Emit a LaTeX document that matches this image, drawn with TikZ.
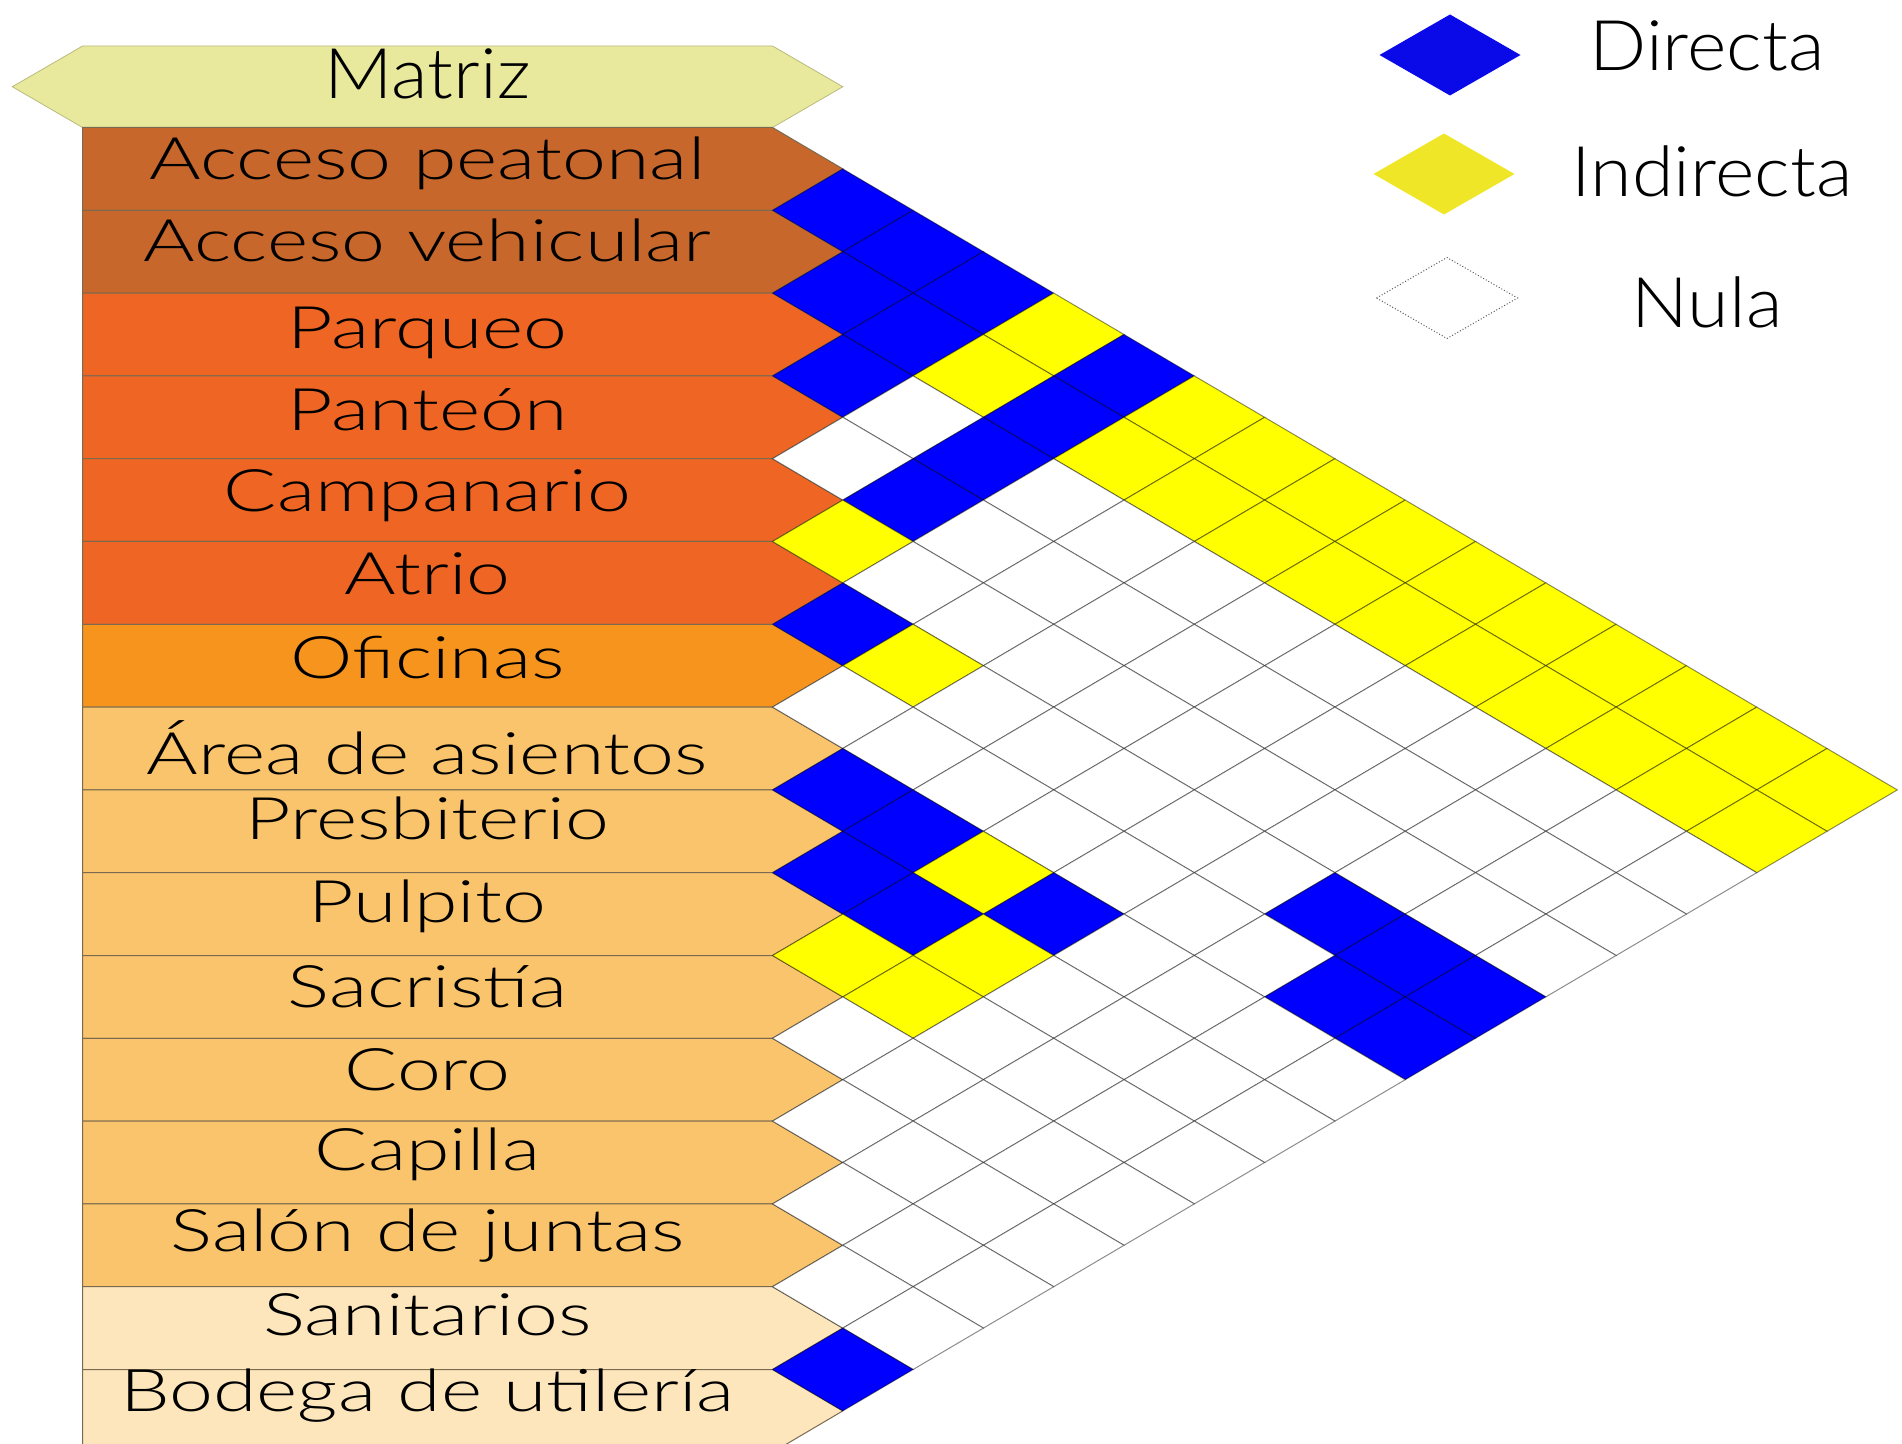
\documentclass[tikz,border=0pt]{standalone}
\usepackage{fontspec}
\setmainfont{Lato}[FakeStretch=1.25]
\newfontfamily\rowfont{Lato Light}[FakeStretch=1.345]
\newfontfamily\bigfont{Lato Light}[FakeStretch=1.08]
\definecolor{cB}{HTML}{0000FF}
\definecolor{cY}{HTML}{FFFF00}
\definecolor{cW}{HTML}{FFFFFF}
\definecolor{matrizc}{HTML}{E8E99D}
\definecolor{brownr}{HTML}{C8672B}
\definecolor{redor}{HTML}{EF6524}
\definecolor{orang}{HTML}{F7941E}
\definecolor{lightor}{HTML}{F9C46C}
\definecolor{paleor}{HTML}{FDE6BB}
\definecolor{legB}{HTML}{0A0AE8}
\definecolor{legY}{HTML}{F0E628}
\definecolor{rowline}{HTML}{7A6A50}
\tikzset{
  rowtext/.style={inner sep=0pt, anchor=base, font=\rowfont\fontsize{29.3}{30}\selectfont},
  bigtext/.style={inner sep=0pt, anchor=base, font=\bigfont\fontsize{34.9}{36}\selectfont},
  cellline/.style={draw=black, draw opacity=0.45, line width=0.5pt},
  rowshape/.style={draw=rowline, line width=0.5pt},
}
\begin{document}
\begin{tikzpicture}[x=0.5pt,y=-0.5pt]
\useasboundingbox (0,0) rectangle (1902,1444);
\clip (0,0) rectangle (1902,1444);
\def\L{82.6}
\def\S{772.5}
\def\W{70.3}
\def\H{41.4}
\def\T{127.5}
% header
\filldraw[fill=matrizc, draw=matrizc!80!black, line width=0.4pt]
  (\L,46) -- (\S,46) -- (\S+\W,86.75) -- (\S,127.5) -- (\L,127.5) -- (\L-\W,86.75) -- cycle;
\node[bigtext] (matriz) at (427.5,98.5) {Matriz};
% rows
\foreach \i/\col/\txt/\dy in {
  0/brownr/Acceso peatonal/52.5,
  1/brownr/Acceso vehicular/51.5,
  2/redor/Parqueo/55,
  3/redor/Panteón/54.5,
  4/redor/Campanario/53,
  5/redor/Atrio/53,
  6/orang/Oficinas/54,
  7/lightor/Área de asientos/67,
  8/lightor/Presbiterio/50,
  9/lightor/Pulpito/50,
  10/lightor/Sacristía/51.5,
  11/lightor/Coro/52,
  12/lightor/Capilla/49.5,
  13/lightor/Salón de juntas/48,
  14/paleor/Sanitarios/48.5,
  15/paleor/Bodega de utilería/42}{
  \pgfmathsetmacro\yt{\T+82.8*\i}
  \pgfmathsetmacro\yb{\yt+82.8}
  \pgfmathsetmacro\yc{\yt+41.4}
  \filldraw[fill=\col, rowshape] (\L,\yt) -- (\S,\yt) -- (\S+\W,\yc) -- (\S,\yb) -- (\L,\yb) -- cycle;
  \node[rowtext] (r\i) at (427.5,\yt+\dy) {\txt};
}
% cells
\foreach \i/\lst in {
  0/{cB,cB,cB,cY,cB,cY,cY,cY,cY,cY,cY,cY,cY,cY,cY},
  1/{cB,cB,cY,cB,cY,cY,cY,cY,cY,cY,cY,cY,cY,cY},
  2/{cB,cW,cB,cW,cW,cW,cW,cW,cW,cW,cW,cW,cW},
  3/{cW,cB,cW,cW,cW,cW,cW,cW,cW,cW,cW,cW},
  4/{cY,cW,cW,cW,cW,cW,cW,cW,cW,cW,cW},
  5/{cB,cY,cW,cW,cW,cW,cW,cB,cB,cB},
  6/{cW,cW,cW,cW,cW,cW,cW,cB,cB},
  7/{cB,cB,cY,cB,cW,cW,cW,cW},
  8/{cB,cB,cY,cW,cW,cW,cW},
  9/{cY,cY,cW,cW,cW,cW},
  10/{cW,cW,cW,cW,cW},
  11/{cW,cW,cW,cW},
  12/{cW,cW,cW},
  13/{cW,cW},
  14/{cB}}{
  \foreach \c [count=\k] in \lst {
    \pgfmathsetmacro\cx{\S+\W*\k}
    \pgfmathsetmacro\cy{\T+82.8*\i+41.4+41.4*\k}
    \filldraw[fill=\c, cellline] (\cx-\W,\cy) -- (\cx,\cy-\H) -- (\cx+\W,\cy) -- (\cx,\cy+\H) -- cycle;
  }
}
% legend
\fill[legB] (1379.5,55) -- (1450,14.5) -- (1520.5,55) -- (1450,95.5) -- cycle;
\fill[legY] (1373.5,174) -- (1444,133.5) -- (1514.5,174) -- (1444,214.5) -- cycle;
\draw[draw=black!65, line width=0.5pt, densely dotted] (1376.5,298) -- (1447,257.5) -- (1517.5,298) -- (1447,338.5) -- cycle;
\node[bigtext] (ldir) at (1707,71) {Directa};
\node[bigtext] (lind) at (1712,197) {Indirecta};
\node[bigtext] (lnul) at (1707,328) {Nula};
\end{tikzpicture}
\end{document}
